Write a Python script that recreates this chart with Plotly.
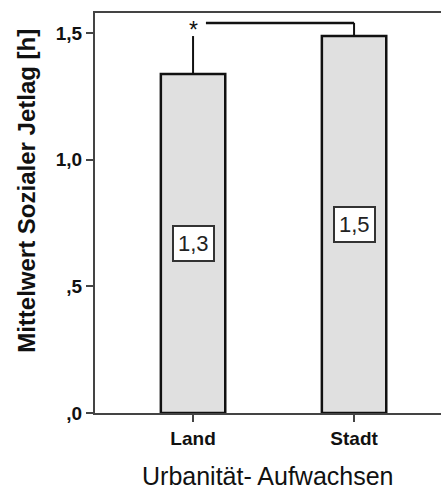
import plotly.graph_objects as go

categories = ["Land", "Stadt"]
means = [1.338, 1.488]
err_upper = [0.150, 0.052]
value_labels = ["1,3", "1,5"]
y_tickvals = [0.0, 0.5, 1.0, 1.5]
y_ticktext = [",0", ",5", "1,0", "1,5"]
bracket_y = 1.54

xs = list(range(len(categories)))

fig = go.Figure()
fig.add_trace(go.Bar(
    x=xs, y=means, width=0.40,
    marker=dict(color="#e0e0e0", line=dict(color="#111111", width=2.5)),
    error_y=dict(type="data", symmetric=False, array=err_upper, arrayminus=[0, 0],
                 color="#111111", thickness=2, width=0),
    hoverinfo="skip",
))

for i, (m, lab) in enumerate(zip(means, value_labels)):
    fig.add_annotation(x=xs[i], y=m / 2, text=lab, showarrow=False,
                       font=dict(family="Liberation Sans, Arial", size=22, color="#222222"),
                       bgcolor="white", bordercolor="#333333", borderwidth=2, borderpad=4)

# significance bracket
fig.add_shape(type="line", x0=0.08, x1=xs[1], y0=bracket_y, y1=bracket_y,
              line=dict(color="#111111", width=2.5))
fig.add_annotation(x=xs[0], y=bracket_y, text="*", showarrow=False, yshift=-7,
                   font=dict(family="Liberation Sans, Arial", size=23, color="#111111"))

# axis titles placed explicitly
fig.add_annotation(xref="paper", yref="paper", x=-0.197, y=0.555, xanchor="center", yanchor="middle",
                   text="Mittelwert Sozialer Jetlag [h]", textangle=-90, showarrow=False,
                   font=dict(family="Liberation Sans, Arial", size=24, color="#111111", weight="bold"))
fig.add_annotation(xref="paper", yref="paper", x=0.5, y=-0.158, xanchor="center", yanchor="middle",
                   text="Urbanität- Aufwachsen", showarrow=False,
                   font=dict(family="Liberation Sans, Arial", size=25, color="#111111"))

fig.update_layout(
    width=441, height=490,
    margin=dict(l=95, r=0, t=13, b=77),
    plot_bgcolor="white", paper_bgcolor="white",
    showlegend=False,
    xaxis=dict(range=[-0.609, 1.54], tickvals=xs, ticktext=categories,
               ticks="outside", ticklen=7, tickwidth=2, tickcolor="#444444",
               showline=True, linecolor="#444444", linewidth=2, mirror=True,
               showgrid=False, zeroline=False,
               tickfont=dict(family="Liberation Sans, Arial", size=19, color="#111111", weight="bold")),
    yaxis=dict(range=[0, 1.579], tickvals=y_tickvals, ticktext=y_ticktext,
               ticks="outside", ticklen=7, tickwidth=2, tickcolor="#444444",
               showline=True, linecolor="#444444", linewidth=2,
               showgrid=False, zeroline=False,
               tickfont=dict(family="Liberation Sans, Arial", size=19, color="#111111", weight="bold")),
)

fig.write_html("out.html")
